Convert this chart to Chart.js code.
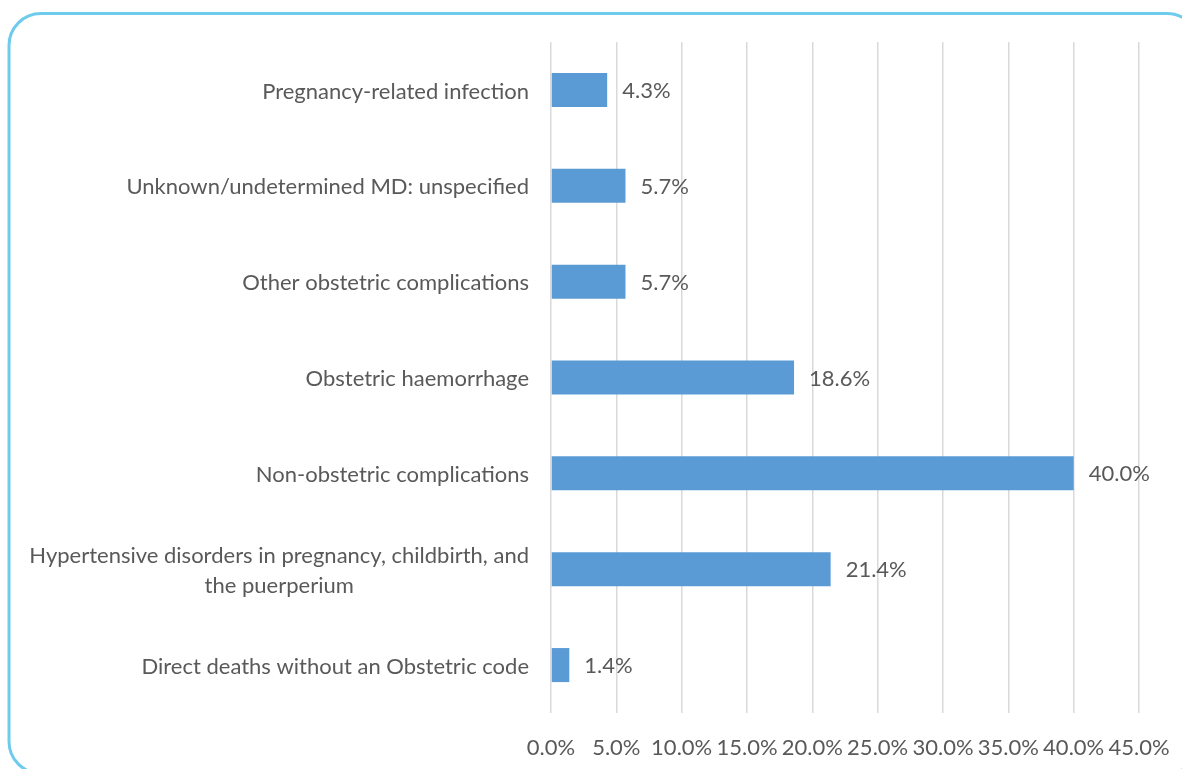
<!DOCTYPE html>
<html>
<head>
<meta charset="utf-8">
<script src="https://cdn.jsdelivr.net/npm/chart.js@4/dist/chart.umd.min.js"></script>
<style>
  html, body { margin: 0; padding: 0; background: #ffffff; overflow: hidden; }
  #c { display: block; }
</style>
</head>
<body>
<canvas id="c" width="1182" height="769"></canvas>
<script>
const categories = [
  "Pregnancy-related infection",
  "Unknown/undetermined MD: unspecified",
  "Other obstetric complications",
  "Obstetric haemorrhage",
  "Non-obstetric complications",
  ["Hypertensive disorders in pregnancy, childbirth, and", "the puerperium"],
  "Direct deaths without an Obstetric code"
];
const values = [4.3, 5.7, 5.7, 18.6, 40.0, 21.4, 1.4];
const tickValues = [0, 5, 10, 15, 20, 25, 30, 35, 40, 45];

const FONT = "Lato, 'Open Sans', sans-serif";
const FSIZE = 22;
const TEXT = "#595959";

const framePlugin = {
  id: 'frame',
  beforeDraw(chart) {
    const ctx = chart.ctx;
    ctx.save();
    ctx.strokeStyle = '#6fcbec';
    ctx.lineWidth = 3;
    ctx.beginPath();
    ctx.roundRect(9, 13.5, 1190, 760, 32);
    ctx.stroke();
    ctx.restore();
  }
};

const labelPlugin = {
  id: 'labels',
  afterDatasetsDraw(chart) {
    const ctx = chart.ctx;
    ctx.save();
    ctx.font = FSIZE + "px " + FONT;
    ctx.fillStyle = TEXT;
    ctx.textAlign = 'left';
    ctx.textBaseline = 'middle';
    chart.getDatasetMeta(0).data.forEach((bar, i) => {
      ctx.fillText(values[i].toFixed(1) + '%', bar.x + 15, bar.y + 1);
    });
    ctx.restore();
  },
  afterDraw(chart) {
    const ctx = chart.ctx;
    const ys = chart.scales.y;
    ctx.save();
    ctx.font = FSIZE + "px " + FONT;
    ctx.fillStyle = TEXT;
    ctx.textAlign = 'center';
    ctx.textBaseline = 'middle';
    const right = ys.right - 22;
    const lh = 30;
    categories.forEach((lab, i) => {
      const lines = Array.isArray(lab) ? lab : [lab];
      const maxW = Math.max(...lines.map(l => ctx.measureText(l).width));
      const cx = right - maxW / 2;
      const y0 = ys.getPixelForTick(i) - (lines.length - 1) * lh / 2;
      lines.forEach((l, k) => ctx.fillText(l, cx, y0 + k * lh + 1.5));
    });
    ctx.restore();
  }
};

new Chart(document.getElementById('c'), {
  type: 'bar',
  data: {
    labels: categories,
    datasets: [{
      data: values,
      backgroundColor: '#5b9bd5',
      borderWidth: 0,
      barPercentage: 0.355,
      categoryPercentage: 1.0
    }]
  },
  plugins: [framePlugin, labelPlugin],
  options: {
    indexAxis: 'y',
    responsive: false,
    animation: false,
    layout: { padding: { top: 42, right: 43, bottom: 0, left: 0 } },
    plugins: { legend: { display: false }, tooltip: { enabled: false } },
    scales: {
      x: {
        min: 0, max: 45,
        afterBuildTicks(scale) { scale.ticks = tickValues.map(v => ({ value: v })); },
        afterFit(scale) { scale.height = 56; scale.paddingLeft = 0; scale.paddingRight = 0; },
        ticks: {
          callback: v => Number(v).toFixed(1) + '%',
          color: TEXT,
          font: { family: FONT, size: FSIZE },
          padding: 22,
          maxRotation: 0,
          autoSkip: false
        },
        grid: { color: '#d9d9d9', lineWidth: 1.5, drawTicks: false },
        border: { display: false }
      },
      y: {
        afterFit(scale) { scale.width = 551; },
        ticks: {
          color: 'rgba(0,0,0,0)',
          font: { family: FONT, size: FSIZE },
          padding: 22
        },
        grid: { display: false, drawTicks: false },
        border: { display: false }
      }
    }
  }
});
</script>
</body>
</html>
